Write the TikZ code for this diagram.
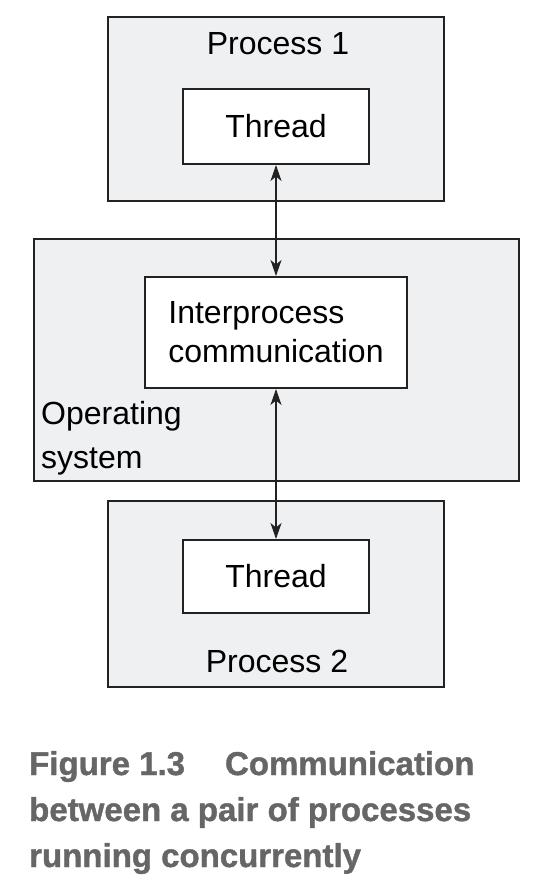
\documentclass[tikz,border=0pt]{standalone}
\usepackage{fontspec}
\setmainfont{Liberation Sans}
\newfontfamily\legfont[FakeBold=1.2]{Liberation Sans Bold}
\usetikzlibrary{arrows.meta}
\definecolor{fond}{RGB}{239,240,242}
\definecolor{trait}{RGB}{34,34,34}
\definecolor{legende}{RGB}{102,102,102}
\begin{document}
\begin{tikzpicture}[x=1pt,y=-1pt,
                    font=\fontsize{32}{39}\selectfont]
    \tikzstyle{cadre}=[draw=trait,line width=2pt,fill=fond,inner sep=0pt]
    \tikzstyle{boite}=[draw=trait,line width=2pt,fill=white,inner sep=0pt]
    \tikzstyle{fleche}=[{Stealth[length=16pt,width=11pt,inset=4.5pt]}-{Stealth[length=16pt,width=11pt,inset=4.5pt]},
                        draw=trait,line width=1.8pt]
    \useasboundingbox (0,0) rectangle (544,890);
    % les cadres
    \node[cadre,minimum width=336pt,minimum height=184pt] (proc1) at (276,109) {};
    \node[cadre,minimum width=485pt,minimum height=242pt] (os) at (276.5,360) {};
    \node[cadre,minimum width=336pt,minimum height=186pt] (proc2) at (276,594) {};
    % les boites
    \node[boite,minimum width=186pt,minimum height=75pt] (thr1) at (276,126.5) {Thread};
    \node[boite,minimum width=262pt,minimum height=111pt,align=left] (ipc) at (276,332.5)
        {Interprocess\\communication};
    \node[boite,minimum width=186pt,minimum height=73pt] (thr2) at (276,576.5) {Thread};
    % les titres
    \node[anchor=base] (lab1) at (278,55) {Process 1};
    \node[anchor=base] (lab2) at (277,672) {Process 2};
    \node[anchor=base west,inner sep=0pt,align=left,
          font=\fontsize{32}{44}\selectfont] (labos) at (41,468) {Operating\\system};
    % les fleches
    \draw[fleche] (thr1.south) -- (ipc.north);
    \draw[fleche] (ipc.south) -- (thr2.north);
    % legende
    \node[anchor=base west,inner sep=0pt,align=left,text=legende,
          font=\legfont\fontsize{33}{46}\selectfont] (leg) at (29,867)
        {Figure 1.3\hspace{40pt}Communication\\between a pair of processes\\running concurrently};
\end{tikzpicture}
\end{document}
